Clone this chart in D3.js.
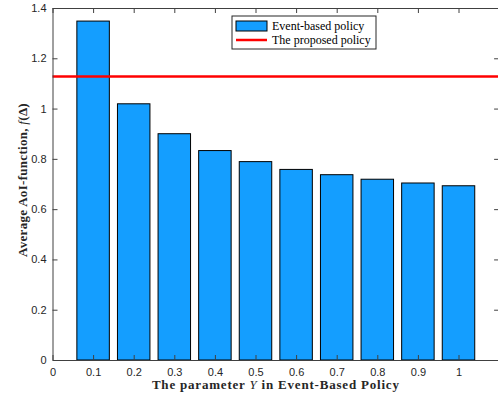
<!DOCTYPE html>
<html>
<head>
<meta charset="utf-8">
<script src="https://cdn.jsdelivr.net/npm/d3@7"></script>
<style>
  body { margin: 0; background: #fff; }
  svg { display: block; }
  .tick text { font-family: "Liberation Sans", Arial, sans-serif; font-size: 11px; fill: #262626; }
</style>
</head>
<body>
<div id="chart"></div>
<script>
// data
const yParams = [0.1, 0.2, 0.3, 0.4, 0.5, 0.6, 0.7, 0.8, 0.9, 1.0];
const aoiValues = [1.348, 1.019, 0.900, 0.833, 0.789, 0.758, 0.737, 0.719, 0.704, 0.693];
const proposedValue = 1.128;
const xTicks = [0, 0.1, 0.2, 0.3, 0.4, 0.5, 0.6, 0.7, 0.8, 0.9, 1];
const yTicks = [0, 0.2, 0.4, 0.6, 0.8, 1, 1.2, 1.4];
const legendLabels = ["Event-based policy", "The proposed policy"];

const width = 498, height = 399;
const margin = {top: 8, right: 0, bottom: 39, left: 52.5};
const barColor = "#149eff";
const axisColor = "#404040";
const serif = "'Liberation Serif', 'DejaVu Serif', serif";

const svg = d3.select("#chart").append("svg")
    .attr("width", width).attr("height", height);

let x = d3.scaleLinear().domain([0, 1.1]).range([margin.left, margin.left + 1.1 * 406]);
let y = d3.scaleLinear().domain([0, 1.4]).range([height - margin.bottom, margin.top]);
const barW = x(0.08) - x(0);

// bars
svg.append("g").selectAll("rect").data(yParams).join("rect")
    .attr("x", d => x(d) - barW / 2)
    .attr("width", barW)
    .attr("y", (d, i) => y(aoiValues[i]))
    .attr("height", (d, i) => y(0) - y(aoiValues[i]))
    .style("fill", barColor)
    .style("stroke", "#000")
    .style("stroke-width", 1);

// proposed policy line
svg.append("line")
    .attr("x1", x(0)).attr("x2", x(1.1))
    .attr("y1", y(proposedValue)).attr("y2", y(proposedValue))
    .style("stroke", "#ff0000").style("stroke-width", 2.5);

// axes (ticks pointing inward, box around)
let fmt = d => d === 0 ? "0" : d === 1 ? "1" : d3.format(".1f")(d);
let xAxis = svg.append("g").attr("transform", `translate(0,${y(0)})`)
    .call(d3.axisBottom(x).tickValues(xTicks).tickSizeInner(-5).tickSizeOuter(0).tickPadding(8).tickFormat(fmt));
let xTop = svg.append("g").attr("transform", `translate(0,${y(1.4)})`)
    .call(d3.axisTop(x).tickValues(xTicks).tickSizeInner(-5).tickSizeOuter(0).tickFormat(""));
let yAxis = svg.append("g").attr("transform", `translate(${x(0)},0)`)
    .call(d3.axisLeft(y).tickValues(yTicks).tickSizeInner(-5).tickSizeOuter(0).tickPadding(6).tickFormat(fmt));
let yRight = svg.append("g").attr("transform", `translate(${x(1.1)},0)`)
    .call(d3.axisRight(y).tickValues(yTicks).tickSizeInner(-5).tickSizeOuter(0).tickFormat(""));

[xAxis, xTop, yAxis, yRight].forEach(g => {
    g.select(".domain").style("stroke", axisColor).style("stroke-width", 1);
    g.selectAll(".tick line").style("stroke", axisColor);
});
// the right border falls just outside the picture
yRight.select(".domain").remove();
xAxis.selectAll(".tick text").attr("dy", "0.71em");

// axis labels
svg.append("text")
    .attr("x", (x(0) + x(1.1)) / 2).attr("y", 389)
    .attr("text-anchor", "middle")
    .style("font-family", serif)
    .style("font-weight", "bold").style("font-size", "13px").style("fill", "#262626")
    .style("letter-spacing", "0.8px")
    .html('The parameter <tspan font-style="italic" font-weight="normal">Y</tspan> in Event-Based Policy');

svg.append("text")
    .attr("transform", `translate(27,${(y(0) + y(1.4)) / 2 - 4}) rotate(-90)`)
    .attr("text-anchor", "middle")
    .style("font-family", serif)
    .style("font-weight", "bold").style("font-size", "13px").style("fill", "#262626")
    .style("letter-spacing", "0.3px")
    .html('Average AoI-function, <tspan font-style="italic" font-weight="normal">f</tspan>(Δ)');

// legend
let legend = svg.append("g").attr("transform", "translate(232,16)");
legend.append("rect").attr("width", 144).attr("height", 33)
    .style("fill", "#fff").style("stroke", "#262626").style("stroke-width", 1);
legend.append("rect").attr("x", 4).attr("y", 5).attr("width", 31).attr("height", 10)
    .style("fill", barColor).style("stroke", "#000");
legend.append("line").attr("x1", 4).attr("x2", 35).attr("y1", 24).attr("y2", 24)
    .style("stroke", "#ff0000").style("stroke-width", 2.5);
legend.selectAll("text.lbl").data(legendLabels).join("text")
    .attr("class", "lbl")
    .attr("x", 40).attr("y", (d, i) => 14 + i * 14)
    .style("font-family", serif)
    .style("font-size", "12px").style("fill", "#000")
    .text(d => d);
</script>
</body>
</html>
